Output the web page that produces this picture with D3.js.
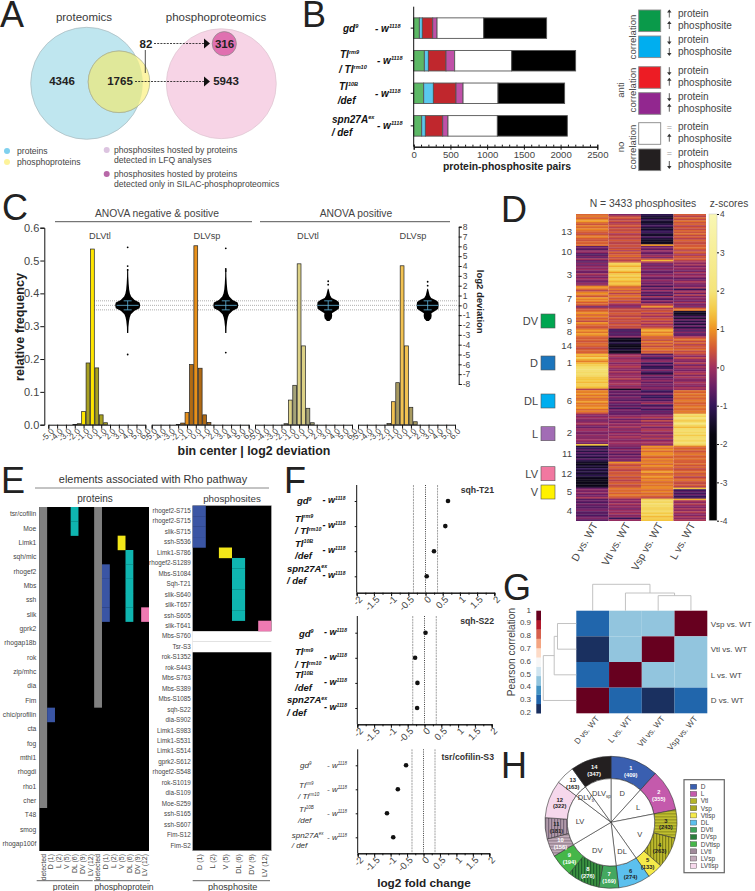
<!DOCTYPE html>
<html>

<head>
    <meta charset="UTF-8">
    <style>
        body { margin: 0; background: #fff; }
        svg { display: block; }
        text { font-family: "Liberation Sans", Arial, sans-serif; fill: #3a3a3a; }
        .axis path, .axis line { stroke: #111; stroke-width: 1; }
        .axis text { fill: #444; }
    </style>
</head>

<body>
    <svg></svg>
    <script src="https://d3js.org/d3.v7.min.js"></script>
    <script>
        // ---- A: venn counts
        let vennProteins = 4346, vennShared = 1765, vennPhosphoOnly = 82, vennSilac = 316, vennLfq = 5943;

        // ---- B: protein-phosphosite pairs
        let genotypes = ["gd", "Tlrm9", "Tl10B", "spn27A"];
        let pairClasses = ["upUp", "downDown", "downUp", "upDown", "eqUp", "eqDown"];
        let pairUpUp = [77, 145, 136, 109];
        let pairDownDown = [41, 55, 132, 50];
        let pairDownUp = [141, 240, 308, 236];
        let pairUpDown = [59, 118, 96, 72];
        let pairEqUp = [635, 776, 476, 672];
        let pairEqDown = [857, 871, 907, 953];
        let pairColors = ["#5cb865", "#5ac8ee", "#c0272d", "#c050a8", "#ffffff", "#000000"];
        let pairLegendColors = ["#0a9a4a", "#00aeef", "#ed1c24", "#92278f", "#ffffff", "#231f20"];

        // ---- C: histograms and deviation swarms
        let histBins = [-2, -1.5, -1, -0.5, 0, 0.5, 1, 1.5];
        let histVtlAll = [0.001, 0.003, 0.04, 0.188, 0.535, 0.173, 0.03, 0.006];
        let histVspAll = [0.001, 0.005, 0.037, 0.183, 0.545, 0.172, 0.03, 0.007];
        let histVtlPos = [0, 0.003, 0.075, 0.12, 0.49, 0.24, 0.05, 0.006];
        let histVspPos = [0, 0.004, 0.07, 0.128, 0.484, 0.24, 0.053, 0.009];
        let binTicks = [-5, -4, -3, -2, -1, 0, 1, 2, 3, 4, 5, 6];
        let swarmDevAll = [-2.8, -2.2, -1.6, -1.2, -0.9, -0.55, -0.3, 0, 0.3, 0.55, 0.9, 1.2, 1.6, 2.2, 2.9, 3.7];
        let swarmDensityAll = [0.05, 0.06, 0.11, 0.17, 0.26, 0.55, 0.95, 1, 0.95, 0.55, 0.28, 0.18, 0.12, 0.08, 0.05, 0.04];
        let swarmDevPos = [-1.6, -1.35, -1.05, -0.8, -0.55, -0.35, 0, 0.35, 0.55, 0.75, 1, 1.3, 1.7];
        let swarmDensityPos = [0.1, 0.28, 0.32, 0.3, 0.62, 0.85, 0.88, 0.85, 0.62, 0.28, 0.16, 0.1, 0.03];
        let swarmOutliers = [[5.9, 4, 3.6, -5], [5.8, 3.7, 3.5, -4.8], [2.45, 2.1], [2.4, 2]];
        let swarmBin = [4, 3.4, 3.3, 2.9];
        let devTicks = d3.range(-8, 9);

        // ---- D: clustered heat map, top to bottom
        let heatClusters = [13, 10, 3, 7, 9, 8, 14, 1, 6, 2, 11, 12, 5, 4];
        let heatRows = [358, 186, 258, 246, 235, 101, 179, 392, 280, 358, 179, 291, 123, 247];
        let heatColumns = ["D vs. WT", "Vtl vs. WT", "Vsp vs. WT", "L vs. WT"];
        let heatD = [
            [.6, .8, .5, .9, 1.1, .7, .4, .8, .6, .9, .7, .5, .3, .7, .8, .5, .4, .6, .5, .7],
            [-.6, -.4, -.7, -.2, -.1, -.6, -.8, -.3, -.6, .1, -.5, -.7],
            [-.2, -.5, -.1, -.3, 0, -.4, -.5, .1, -.2, -.4, 0, -.3, -.5, -.1, -.2],
            [.9, 1, .6, .2, .8, 1, .7, .4, 1.1, .8, .9, .5, .7, .3, -.5],
            [.3, .5, .7, 1, .6, .9, .5, .7, .3, 1, .7, .5, .4],
            [.8, 1, .7, 1.1, .9, .6],
            [.5, .6, .4, .6, .7, .5, .3, .5, .6, .5],
            [1.3, 1.1, 1.6, 1.2, .8, 1.3, 1.6, 1.8, 1.9, 1.9, 1.8, 1.9, 1.8, 1.5, 1.4, 1.6, 1.3, 1.6, 1.5, 1.3],
            [.2, .9, .8, 1, .7, .9, .6, .8, 1.1, .7, .8, .9, 1, .6, .8, .5],
            [-.1, -.3, 0, -.2, -.4, -.1, .1, -.3, -.5, -.1, 0, -.3, -.4, -.1, -.3, -.2, 0, -.2, -.4, 1.4],
            [-1.3, -1, -.6, -1.2, -.6, -1.1, -.8, -1.3, -.7, -1.2],
            [-1.5, -1.7, -1.3, -1.5, -1, -1.4, -1.2, -1.5, -1.1, -1.5, -1.7, -1.6, -1.7, -1.6, -1.7, -1.5],
            [-.5, -.2, -.4, -.1, -.5, -.3, .1],
            [-.7, -.5, -.8, -.4, -.6, -.7, -.5, -.3, -.7, -.6, -.8, -.5, -.3, -.6]
        ];
        let heatVtl = [
            [-.3, .3, .5, .2, .4, .1, .3, .5, .2, .4, .3, .5, .1, .3, .4, .2, .5, .3, .2, .4],
            [.4, .2, .5, .1, .6, .3, .5, .7, .3, .5, .2, .4],
            [1.7, 1.5, 1.2, 1.6, 1.8, 1.4, 1, 1.5, 1.7, 1.3, 1.6, 1.4, 1.2, 1.5, 1.3],
            [.7, .5, .8, .4, .7, .2, .6, .8, .4, .6, .2, .5, .1, -.2, -.4],
            [.2, .4, .3, .5, .4, .2, .5, .3, .4, .2, .5, .3, .4],
            [-.7, -.9, -.6, -.8, -.6, -.2],
            [-1.5, -1.7, -1.5, -1.2, -1.6, -1.7, -1.6, -1.2, -1.6, -1.5],
            [-.1, .1, -.2, 0, .1, -.3, 0, .2, -.1, -.3, .1, -.2, 0, -.1, .2, -.2, 0, .1, -.2, 0],
            [-1.5, -.4, -.6, -.4, -.7, -.3, -.5, -.7, -.2, -.5, -.7, -.4, -.9, -.3, -.5, -.6],
            [-.5, -.2, .1, -.5, -.1, -.4, 0, -.2, .1, -.3, -.1, -.4, 0, -.2, .1, -.1, -.3, -.1, 0, -.2],
            [-.3, -.6, -.1, -.5, -.2, -.7, -.3, -.5, -.2, -.4],
            [1, .5, .3, .6, .4, .2, .5, .4, .6, .3, .5, .2, .4, .6, .3, .4],
            [.8, .6, .7, .5, .8, .6, .4],
            [-.2, 0, -.3, .1, -.2, -.1, -.4, 0, -.2, .1, -.3, -.1, -1, -.1]
        ];
        let heatVsp = [
            [-1.1, -1.3, -1.5, -.9, -1.4, -1.5, -1.2, -.8, -1.3, -1.5, -1.1, -.9, -1.4, -1.5, -.8, -1.3, -1.5, -1.6, -1.5, 1],
            [-.5, -.2, -.6, 0, -.4, -.6, -.2, .1, -.4, .4, 1.3, .3],
            [-.3, -.5, -.2, -.4, -.1, -.5, -.6, -.3, 0, -.4, -.6, -.1, -.3, -.5, -.2],
            [-.9, -.2, -.6, 0, -.7, -.4, -.9, .1, -.5, -.8, -.1, -.6, .1, .4, 1],
            [.1, .3, .5, .1, .4, 0, .3, .5, .1, .4, 0, .2, .4],
            [1.1, 1.2, .8, 1.1, .9, .5],
            [.6, .3, .8, .4, .7, .3, .6, .8, .4, .6],
            [-.7, -.3, -.9, -.4, -.1, -1, -.5, -1.1, -.9, -.3, -.8, -1.2, -.2, -.7, -.4, -.1, -.6, -.3, -.5, -.2],
            [-.4, -1, -.7, -.3, -.9, -1, -.5, -.8, -.3, .1, -.9, -.6, -.4, -.9, -.5, -.7],
            [-.3, -.1, .2, -.4, .3, -.2, 0, .2, -.4, 0, .2, -.1, -.3, .1, -.2, .2, -.3, 0, .1, -.2],
            [1, .7, 1, .6, .9, 1, .7, .5, .9, .7],
            [.9, .6, 1, .7, .5, .8, 1.1, .6, .8, 1, .7, .9, .6, .8, .7, .9],
            [.9, .6, .9, .6, .8, .5, .3],
            [1.6, 1.8, 1.7, 1.9, 1.8, 1.7, 1.6, 1.8, 1.7, 1.5, 1.7, 1.3, 1.6, 1.4]
        ];
        let heatL = [
            [.5, .2, .6, .3, .7, .4, .6, .2, .5, .3, .6, .4, .7, .3, .5, .2, .6, .4, .3, .5],
            [.5, .7, .4, .2, .6, .3, 0, .5, .3, .6, .2, .1],
            [-.2, .1, -.4, 0, -.2, -.5, .1, -.3, 0, -.2, -.6, -.3, .1, -.2, -.4],
            [-.4, .1, -1, -.2, .1, -.5, .2, -.4, -.1, -.3, -.5, .1, -.4, -.2, -.5],
            [.5, .8, -1.4, -1.6, -1.5, -.7, -1.4, -.4, -1.2, -.6, -1.3, -.5, -1.2],
            [-.4, -.8, -.2, -.7, -.5, .1],
            [.5, .7, .3, .6, .2, .5, .4, .7, .3, .5],
            [.2, -.2, .3, -.1, -.3, .2, -.4, .1, -.2, -.4, 0, .2, -.3, .1, -.2, -.3, .1, -.1, -.3, .1],
            [-.1, .7, .5, .8, .6, .7, .5, .8, .7, .5, .6, .8, .7, .6, .8, .7],
            [1.9, 1.6, 2, 1.8, 1.5, 1.9, 2, 1.7, 1.3, 1.8, 1.9, 1.7, 1.9, 1.5, 1.8, 1.9, 1.7, 1.8, 1.9, 1.7],
            [.8, .5, .7, .4, .6, .8, .5, .6, .7, .5],
            [.5, .7, .4, .6, .3, .5, .7, .4, .6, .2, .5, .7, .4, .3, .5, .2],
            [1.4, -1, -.6, -.9, -.5, -1, -.8],
            [1.2, .1, -.2, .2, -.1, -.3, .1, -.2, .2, -.1, -.3, .1, -.2, .1]
        ];
        let heatGroups = ["DV", "D", "DL", "L", "LV", "V"];
        let heatGroupColors = ["#00a651", "#1c75bc", "#00aeef", "#a26cb5", "#f178a0", "#fff200"];
        let zTicks = [4, 3, 2, 1, 0, -1, -2, -3, -4];
        let zStops = [-4, -1.8, -1.4, -1, -0.5, 0, 0.5, 1, 1.4, 2, 4];
        let zColors = ["#000000", "#04030b", "#1a0f30", "#331558", "#6a1f66", "#a03060", "#d45a35", "#ee9424", "#f4c53e", "#f4e47a", "#f9f7b4"];

        // ---- E: Rho pathway elements
        let rhoProteins = ["tsr/cofilin", "Moe", "Limk1", "sqh/mlc", "rhogef2", "Mbs", "ssh", "slik", "gprk2", "rhogap18b", "rok", "zip/mhc", "dia", "Fim", "chic/profilin", "cta", "fog", "mthl1", "rhogdi", "rho1", "cher", "T48", "smog", "rhogap100f"];
        let rhoColumns = ["detected", "D (1)", "L (2)", "V (5)", "DL (6)", "DV (9)", "LV (12)"];
        // [row, column, class]
        let rhoProteinHits = [[0, 4, "DL (6)"], [1, 4, "DL (6)"], [14, 1, "D (1)"],
            [2, 10, "V (5)"], [3, 11, "DL (6)"], [4, 11, "DL (6)"], [5, 11, "DL (6)"], [6, 11, "DL (6)"], [7, 11, "DL (6)"],
            [4, 8, "D (1)"], [5, 8, "D (1)"], [6, 8, "D (1)"], [7, 8, "D (1)"], [7, 13, "LV (12)"]];
        let rhoDetectedProtein = 21, rhoDetectedPhospho = 14;
        let rhoSites = ["rhogef2-S715", "rhogef2-S715", "slik-S715", "ssh-S536", "Limk1-S786", "rhogef2-S1289", "Mbs-S1084", "Sqh-T21", "slik-S640", "slik-T657", "ssh-S605", "slik-T641", "Mbs-S760", "Tsr-S3", "rok-S1352", "rok-S443", "Mbs-S763", "Mbs-S389", "Mbs-S1085", "sqh-S22", "dia-S902", "Limk1-S983", "Limk1-S531", "Limk1-S514", "gprk2-S612", "rhogef2-S548", "rok-S1019", "dia-S109", "Moe-S259", "ssh-S165", "ssh-S607", "Fim-S12", "Fim-S2"];
        let rhoSiteColumns = ["D (1)", "L (2)", "V (5)", "DL (6)", "DV (9)", "LV (12)"];
        let rhoSiteHits = [[0, "D (1)"], [1, "D (1)"], [2, "D (1)"], [3, "D (1)"], [4, "V (5)"], [5, "DL (6)"], [6, "DL (6)"], [7, "DL (6)"], [8, "DL (6)"], [9, "DL (6)"], [10, "DL (6)"], [11, "LV (12)"]];
        let rhoSiteWhite = [12, 13];
        let rhoHitColor = d3.scaleOrdinal().domain(["D (1)", "V (5)", "DL (6)", "LV (12)"]).range(["#3a55a4", "#f2e619", "#0fb5b0", "#ee7ab2"]);

        // ---- F: fold changes
        let foldSqhT21 = [0.654, 0.576, 0.247, 0.035];
        let foldSqhS22 = [0.03, -0.28, -0.21, -0.22];
        let foldTsrS3 = [-0.53, -0.78, -1.11, -0.92];
        let foldTicks = [-2, -1.5, -1, -0.5, 0, 0.5, 1, 1.5, 2];
        let foldCut = 0.35;
        let genoLines = [["gd", "9"], ["Tl", "rm9"], ["/ Tl", "rm10"], ["Tl", "10B"], ["/def", ""], ["spn27A", "ex"], ["/ def", ""]];

        // ---- G: Pearson correlation
        let corrCols = ["D vs. WT", "L vs. WT", "Vtl vs. WT", "Vsp vs. WT"];
        let corrRows = ["Vsp vs. WT", "Vtl vs. WT", "L vs. WT", "D vs. WT"];
        let corrVsp = [0.3, 0.45, 0.45, 1];
        let corrVtl = [0.2, 0.45, 1, 0.45];
        let corrL = [0.3, 1, 0.45, 0.45];
        let corrD = [1, 0.3, 0.2, 0.3];
        let corrColors = ["#1a3060", "#2166ac", "#4393c3", "#92c5de", "#d1e5f0", "#f7f7f7", "#fddbc7", "#f4a582", "#d6604d", "#b2182b", "#67001f"];
        let corrTicks = [1, 0.9, 0.8, 0.7, 0.6, 0.5, 0.4, 0.3, 0.2];
        let mergeHeights = [0.57, 0.67, 1];

        // ---- H: cluster sizes
        let ringNames = ["1", "2", "3", "4", "5", "6", "7", "8", "9", "10", "11", "12", "13", "14"];
        let ringSizes = [409, 355, 243, 263, 133, 274, 169, 276, 194, 156, 181, 322, 163, 347];
        let ringFills = ["#3a5fb0", "#c45aac", "url(#hOlive)", "url(#vOlive)", "#f5ea4a", "#5cc0ee", "#44a860", "url(#vGreen)", "#45b649", "url(#hMauve)", "url(#vMauve)", "#f6d8ec", "#ffffff", "#231f20"];
        let ringText = ["#fff", "#fff", "#222", "#222", "#222", "#222", "#fff", "#fff", "#fff", "#fff", "#222", "#222", "#222", "#fff"];
        let pieNames = ["D", "L", "V", "DL", "DV", "LV", "DLVtl", "DLVsp"];
        let pieClusterCount = [1, 1, 3, 1, 3, 3, 1, 1];
        let legendNames = ["D", "L", "Vtl", "Vsp", "Vtlsp", "DL", "DVtl", "DVsp", "DVtlsp", "LVtl", "LVsp", "LVtlsp"];
        let legendColors = ["#3a5fb0", "#c45aac", "#b5b52a", "#a8a820", "#f5ea4a", "#5cc0ee", "#3fa35a", "#2a7d3c", "#45b649", "#a08a9a", "#c0a8b8", "#f6d8ec"];

        let width = 755,
            height = 891;

        let svg = d3.select("svg")
            .attr("width", width)
            .attr("height", height);

        let defs = svg.append("defs");

        function label(g, x, y, str, size, opts) {
            opts = opts || {};
            return g.append("text")
                .attr("x", x).attr("y", y)
                .attr("font-size", size)
                .attr("text-anchor", opts.anchor || "start")
                .attr("font-weight", opts.weight || null)
                .attr("font-style", opts.style || null)
                .style("fill", opts.fill || null)
                .attr("transform", opts.rotate ? "rotate(" + opts.rotate + " " + x + " " + y + ")" : null)
                .text(str);
        }

        function geno(g, x, y, main, sup, size, bold) {
            let t = g.append("text")
                .attr("x", x).attr("y", y)
                .attr("font-size", size)
                .attr("font-style", "italic")
                .attr("font-weight", bold ? "bold" : null)
                .style("fill", bold ? "#111" : "#333");
            t.append("tspan").text(main);
            if (sup) {
                t.append("tspan").attr("dy", -size * 0.36).attr("font-size", size * 0.56).text(sup);
            }
        }

        [["A", 0, 27], ["B", 302, 27], ["C", 2, 220], ["D", 501, 222], ["E", 1, 493], ["F", 284, 493], ["G", 503, 600], ["H", 501, 778]]
            .forEach(d => label(svg, d[1], d[2], d[0], 36, { fill: "#222" }));

        // ---------------- A
        let a = svg.append("g");
        let vennR = d3.scaleSqrt().domain([0, vennProteins + vennShared]).range([0, 56]);

        function circle(g, cx, cy, r, fill, stroke) {
            return g.append("circle").attr("cx", cx).attr("cy", cy).attr("r", r)
                .attr("fill", fill).attr("stroke", stroke || "none").attr("stroke-width", 0.7);
        }
        circle(a, 86.7, 83.3, vennR(vennProteins + vennShared), "#bfe6ef", "#a8b8bc");
        circle(a, 119, 81.8, vennR(vennShared + vennPhosphoOnly), "#fdf5a5", "#a8ad90");
        defs.append("clipPath").attr("id", "vennClip").append("circle")
            .attr("cx", 86.7).attr("cy", 83.3).attr("r", vennR(vennProteins + vennShared));
        circle(a, 119, 81.8, vennR(vennShared + vennPhosphoOnly), "#e0e89a", "#a8ad90").attr("clip-path", "url(#vennClip)");
        circle(a, 221.3, 83.7, vennR(vennLfq + vennSilac) * 0.97, "#f7d4e6", "#ddc4d0");
        circle(a, 224.3, 43.7, vennR(vennSilac) * 0.95, "#e070b0", "#888");

        label(a, 84, 21, "proteomics", 11.5, { anchor: "middle" });
        label(a, 216, 21, "phosphoproteomics", 11.5, { anchor: "middle" });
        [[vennProteins, 62, 85], [vennShared, 120, 85], [vennPhosphoOnly, 146, 48], [vennSilac, 224.5, 48], [vennLfq, 226, 85]]
            .forEach(d => label(a, d[1], d[2], d[0], 11.5, { anchor: "middle", weight: "bold", fill: "#222" }));

        [[154, 204, 43.5], [135, 204, 81.5]].forEach(d => {
            a.append("line").attr("x1", d[0]).attr("x2", d[1]).attr("y1", d[2]).attr("y2", d[2])
                .attr("stroke", "#111").attr("stroke-width", 0.8).attr("stroke-dasharray", "2,1.2");
            a.append("path").attr("d", d3.line()([[204, d[2] - 5], [210, d[2]], [204, d[2] + 5]]) + "Z").attr("fill", "#111");
        });
        a.append("line").attr("x1", 145.3).attr("x2", 145.3).attr("y1", 50).attr("y2", 73).attr("stroke", "#222").attr("stroke-width", 0.8);

        [[7, 151, "#7fd0ee"], [7, 162, "#fdf39a"], [106.7, 150, "#dcc4e0"], [106.7, 174, "#b868a8"]]
            .forEach(d => circle(a, d[0], d[1], 3, d[2]));
        [[17, 153.5, "proteins"], [17, 164.5, "phosphoproteins"], [114, 152.5, "phosphosites hosted by proteins"], [114, 163, "detected in LFQ analyses"], [114, 176.5, "phosphosites hosted by proteins"], [114, 187, "detected only in SILAC-phosphoproteomics"]]
            .forEach(d => label(a, d[0], d[1], d[2], 8.6, { fill: "#444" }));

        // ---------------- B
        let b = svg.append("g");
        let pairX = d3.scaleLinear().domain([0, 2500]).range([413.7, 597.3]);
        let pairY = d3.scaleBand().domain(genotypes).range([12, 142]).paddingInner(0.37).paddingOuter(0.18);
        let pairTable = genotypes.map((g, i) => ({
            g: g, upUp: pairUpUp[i], downDown: pairDownDown[i], downUp: pairDownUp[i],
            upDown: pairUpDown[i], eqUp: pairEqUp[i], eqDown: pairEqDown[i]
        }));
        let stacked = d3.stack().keys(pairClasses)(pairTable);
        b.selectAll("g.layer").data(stacked).enter().append("g")
            .attr("fill", (d, i) => pairColors[i])
            .selectAll("rect").data(d => d).enter().append("rect")
            .attr("x", d => pairX(d[0]))
            .attr("y", d => pairY(d.data.g))
            .attr("width", d => pairX(d[1]) - pairX(d[0]))
            .attr("height", pairY.bandwidth())
            .attr("stroke", "#555").attr("stroke-width", 0.9);
        b.append("g").attr("class", "axis").attr("transform", "translate(0,146.7)")
            .call(d3.axisBottom(pairX).tickValues(d3.range(0, 2501, 100)).tickSize(-2).tickFormat(""))
            .call(g => g.select(".domain").attr("stroke-width", 1.2));
        b.append("g").attr("class", "axis").attr("transform", "translate(0,146.7)")
            .call(d3.axisBottom(pairX).tickValues(d3.range(0, 2501, 500)).tickSize(3).tickPadding(1).tickFormat(d3.format("d")))
            .call(g => g.selectAll("text").attr("font-size", 9.6));
        b.append("g").attr("class", "axis").attr("transform", "translate(413.7,0)")
            .call(d3.axisLeft(pairY).tickSize(3).tickFormat(""))
            .call(g => g.select(".domain").attr("d", "M0,6.7V146.7"));
        label(b, 507, 170, "protein-phosphosite pairs", 10.4, { anchor: "middle", weight: "bold", fill: "#222" });

        geno(b, 343, 31.7, "gd", "9", 10, true);
        geno(b, 340, 57.7, "Tl", "rm9", 10, true);
        geno(b, 339, 72.7, "/ Tl", "rm10", 10, true);
        geno(b, 339, 90, "Tl", "10B", 10, true);
        geno(b, 337.7, 104, "/def", "", 10, true);
        geno(b, 332, 122.7, "spn27A", "ex", 10, true);
        geno(b, 331.7, 135.7, "/ def", "", 10, true);
        [[375, 31.7], [377, 64], [375, 96.7], [377, 129]].forEach(d => geno(b, d[0], d[1], "- w", "1118", 10, true));

        let swatchY = [10, 36, 66.7, 92.7, 122.7, 149];
        let swatchArrows = [["up", "up"], ["down", "down"], ["down", "up"], ["down", "up"], ["eq", "up"], ["eq", "down"]];
        function arrow(g, x, y, kind) {
            if (kind === "eq") {
                label(g, x, y + 3, "=", 9, { anchor: "middle", fill: "#999" });
                return;
            }
            let s = kind === "up" ? 1 : -1;
            g.append("line").attr("x1", x).attr("x2", x).attr("y1", y - 3.5 * s).attr("y2", y + 3.5 * s).attr("stroke", "#333").attr("stroke-width", 0.8);
            g.append("path").attr("d", d3.line()([[x - 2.2, y - 1.5 * s], [x, y - 4.5 * s], [x + 2.2, y - 1.5 * s]]) + "Z").attr("fill", "#333");
        }
        swatchY.forEach((y, i) => {
            b.append("rect").attr("x", 638.7).attr("y", y).attr("width", 22).attr("height", 21.6)
                .attr("fill", pairLegendColors[i]).attr("stroke", "#888").attr("stroke-width", 0.9);
            arrow(b, 669.3, y + 4, swatchArrows[i][0]);
            arrow(b, 669.3, y + 15.5, swatchArrows[i][1]);
            label(b, 678, y + 7, "protein", 10, { fill: "#444" });
            label(b, 678, y + 19, "phosphosite", 10, { fill: "#444" });
        });
        [[636, 37, "correlation"], [636, 90, "correlation"], [624, 90, "anti"], [636, 147, "correlation"], [624, 147, "no"]]
            .forEach(d => label(b, d[0], d[1], d[2], 9.6, { anchor: "middle", rotate: -90, fill: "#444" }));

        // ---------------- C
        let c = svg.append("g");
        let freqY = d3.scaleLinear().domain([0, 0.6]).range([424.7, 227.7]);
        let devY = d3.scaleLinear().domain([-8, 8]).range([384, 226.7]);
        let widthScale = d3.scaleLinear().domain([0, 1]).range([0, 12.5]);
        let panelStart = [48.3, 151.7, 255, 358];
        let histValues = [histVtlAll, histVspAll, histVtlPos, histVspPos];
        let histColors = [["#ffe600", "#a8a020"], ["#e8901a", "#b06a14"], ["#dcd186", "#a5a378"], ["#f2c252", "#a89a60"]];
        let swarmDevs = [swarmDevAll, swarmDevAll, swarmDevPos, swarmDevPos];
        let swarmDens = [swarmDensityAll, swarmDensityAll, swarmDensityPos, swarmDensityPos];

        c.append("g").attr("class", "axis").attr("transform", "translate(44.3,0)")
            .call(d3.axisLeft(freqY).ticks(6).tickFormat(d => d.toFixed(1)).tickSize(4).tickPadding(1))
            .call(g => g.selectAll("text").attr("font-size", 11));
        c.append("g").attr("class", "axis").attr("transform", "translate(458.7,0)")
            .call(d3.axisRight(devY).tickValues(devTicks).tickFormat(d => String(d)).tickSize(3).tickPadding(1))
            .call(g => g.selectAll("text").attr("font-size", 8.5));

        [0, -0.46, 0.46].forEach(d => {
            c.append("line").attr("x1", 94).attr("x2", 457).attr("y1", devY(d)).attr("y2", devY(d))
                .attr("stroke", "#777").attr("stroke-width", 0.6).attr("stroke-dasharray", "1,1");
        });

        panelStart.forEach((x0, p) => {
            let bx = d3.scaleLinear().domain([-5, 6]).range([x0, x0 + 97]);
            c.append("g").attr("class", "axis").attr("transform", "translate(0,424.7)")
                .call(d3.axisBottom(bx).tickValues(binTicks).tickFormat(d => d.toFixed(1)).tickSize(4).tickPadding(2))
                .call(g => g.selectAll("text").attr("font-size", 8.4).attr("text-anchor", "end")
                    .attr("transform", "rotate(-45) translate(-1,-3)"));

            c.selectAll("rect.h" + p).data(histBins).enter().append("rect")
                .attr("x", d => bx(d) - 1.9)
                .attr("y", (d, i) => freqY(histValues[p][i]))
                .attr("width", 3.8)
                .attr("height", (d, i) => 424.7 - freqY(histValues[p][i]))
                .attr("fill", d => (d === 0 || d === -1 || (p > 1 && d === 0.5)) ? histColors[p][0] : histColors[p][1])
                .attr("stroke", "#222").attr("stroke-width", 0.7);

            // swarm drawn as width profile around the bin position
            let sx = bx(swarmBin[p]);
            let area = d3.area()
                .x0((d, i) => sx - widthScale(swarmDens[p][i]))
                .x1((d, i) => sx + widthScale(swarmDens[p][i]))
                .y(d => devY(d));
            c.append("path").attr("d", area(swarmDevs[p])).attr("fill", "#000");
            c.selectAll("circle.o" + p).data(swarmOutliers[p]).enter().append("circle")
                .attr("cx", sx).attr("cy", d => devY(d)).attr("r", 0.9).attr("fill", "#000");
            c.append("path")
                .attr("d", "M" + (sx - 11) + "," + devY(0) + "H" + (sx + 11)
                    + "M" + (sx - 4) + "," + devY(0.46) + "H" + (sx + 4)
                    + "M" + (sx - 4) + "," + devY(-0.46) + "H" + (sx + 4)
                    + "M" + sx + "," + devY(0.46) + "V" + devY(-0.46))
                .attr("fill", "none").attr("stroke", "#62b5dc").attr("stroke-width", 0.8);
        });

        [[157, 217, "ANOVA  negative & positive"], [356, 217, "ANOVA positive"]].forEach(d => label(c, d[0], d[1], d[2], 10.3, { anchor: "middle", fill: "#444" }));
        [[55, 252], [260, 450]].forEach(d => c.append("line").attr("x1", d[0]).attr("x2", d[1]).attr("y1", 221.7).attr("y2", 221.7).attr("stroke", "#555"));
        [[100, "DLVtl"], [207, "DLVsp"], [308, "DLVtl"], [413, "DLVsp"]].forEach(d => label(c, d[0], 238.5, d[1], 9.2, { anchor: "middle", fill: "#444" }));
        label(c, 254, 455, "bin center | log2 deviation", 12.4, { anchor: "middle", weight: "bold", fill: "#222" });
        label(c, 24, 327, "relative frequency", 12.6, { anchor: "middle", weight: "bold", rotate: -90, fill: "#222" });
        label(c, 477, 301.7, "log2 deviation", 9.5, { anchor: "middle", weight: "bold", rotate: 90, fill: "#222" });

        // ---------------- D
        let dd = svg.append("g");
        let zColor = d3.scaleLinear().domain(zStops).range(zColors);
        let heatTotal = d3.sum(heatRows);
        let heatYScale = d3.scaleLinear().domain([0, heatTotal]).range([214, 520.7]);
        let heatX = d3.scaleBand().domain(heatColumns).range([576, 706]);
        let heatByColumn = [heatD, heatVtl, heatVsp, heatL];
        let rowOffsets = [0].concat(Array.from(d3.cumsum(heatRows)));

        heatColumns.forEach((col, ci) => {
            heatClusters.forEach((cl, k) => {
                let stripes = heatByColumn[ci][k];
                let rowsEach = heatRows[k] / stripes.length;
                dd.selectAll("rect.c" + ci + "k" + k).data(stripes).enter().append("rect")
                    .attr("x", heatX(col))
                    .attr("width", heatX.bandwidth())
                    .attr("y", (d, i) => heatYScale(rowOffsets[k] + i * rowsEach))
                    .attr("height", heatYScale(rowsEach) - heatYScale(0) + 0.3)
                    .attr("fill", d => zColor(d));
            });
            label(dd, heatX(col) + 22, 525, col, 10.4, { anchor: "end", rotate: -61, fill: "#444" });
        });

        let clusterLabelY = [231, 251, 274, 298, 320, 331, 345, 362, 400, 432, 453, 473, 491, 510];
        heatClusters.forEach((cl, k) => label(dd, 572, clusterLabelY[k] + 3.5, cl, 9.6, { anchor: "end", fill: "#444" }));
        let groupY = [314, 356, 394, 426.7, 466.7, 485];
        heatGroups.forEach((g, i) => {
            dd.append("rect").attr("x", 541).attr("y", groupY[i]).attr("width", 14).attr("height", 14)
                .attr("fill", heatGroupColors[i]).attr("stroke", "#555").attr("stroke-width", 0.6);
            label(dd, 538, groupY[i] + 11, g, 11, { anchor: "end", fill: "#444" });
        });
        label(dd, 643, 207, "N = 3433 phosphosites", 10.4, { anchor: "middle", fill: "#444" });
        label(dd, 729, 207, "z-scores", 10.2, { anchor: "middle", fill: "#444" });

        let zY = d3.scaleLinear().domain([-4, 4]).range([520.7, 214]);
        defs.append("linearGradient").attr("id", "zGrad").attr("x1", 0).attr("x2", 0).attr("y1", 1).attr("y2", 0)
            .selectAll("stop").data(d3.range(-4, 4.01, 0.25)).enter().append("stop")
            .attr("offset", d => (d + 4) / 8)
            .attr("stop-color", d => zColor(d));
        dd.append("rect").attr("x", 709).attr("y", 214).attr("width", 8).attr("height", 306.7)
            .attr("fill", "url(#zGrad)").attr("stroke", "#ccc").attr("stroke-width", 0.6);
        dd.append("g").attr("transform", "translate(717,0)").attr("class", "axis")
            .call(d3.axisRight(zY).tickValues(zTicks).tickSize(2).tickPadding(1).tickFormat(d => String(d)))
            .call(g => g.select(".domain").remove())
            .call(g => g.selectAll("line").attr("stroke", "#888"))
            .call(g => g.selectAll("text").attr("font-size", 8.4));

        // ---------------- E
        let e = svg.append("g");
        label(e, 153, 483, "elements associated with Rho pathway", 10.9, { anchor: "middle", fill: "#333" });
        e.append("line").attr("x1", 35).attr("x2", 269).attr("y1", 488).attr("y2", 488).attr("stroke", "#888");
        label(e, 95, 502, "proteins", 10, { anchor: "middle" });
        label(e, 232, 502, "phosphosites", 9.8, { anchor: "middle" });

        let leftCols = d3.range(14);
        let eX = d3.scaleBand().domain(leftCols).range([39.3, 149]);
        let eY = d3.scaleBand().domain(rhoProteins).range([507, 851]);
        e.append("rect").attr("x", 39.3).attr("y", 507).attr("width", 109.7).attr("height", 344).attr("fill", "#000");
        [[0, rhoDetectedProtein], [7, rhoDetectedPhospho]].forEach(d => {
            e.append("rect").attr("x", eX(d[0])).attr("y", 507).attr("width", eX.bandwidth())
                .attr("height", d[1] * eY.bandwidth()).attr("fill", "#808080");
        });
        e.selectAll("rect.hit").data(rhoProteinHits).enter().append("rect")
            .attr("x", d => eX(d[1])).attr("y", d => eY(rhoProteins[d[0]]))
            .attr("width", eX.bandwidth()).attr("height", eY.bandwidth() + 0.2)
            .attr("fill", d => rhoHitColor(d[2]));
        e.append("g").attr("class", "axis").attr("transform", "translate(39.3,0)")
            .call(d3.axisLeft(eY).tickSize(0).tickPadding(3))
            .call(g => g.select(".domain").remove())
            .call(g => g.selectAll("text").attr("font-size", 6.7));
        leftCols.forEach(i => {
            let x = eX(i) + eX.bandwidth() / 2 + 2.4;
            label(e, x, 854, rhoColumns[i % 7], 6.9, { anchor: "end", rotate: -90, fill: "#444" });
        });
        [[36.7, 92.7, 66, "protein"], [94, 150, 124, "phosphoprotein"]].forEach(d => {
            e.append("line").attr("x1", d[0]).attr("x2", d[1]).attr("y1", 880.7).attr("y2", 880.7).attr("stroke", "#666");
            label(e, d[2], 889.5, d[3], 8.6, { anchor: "middle" });
        });

        let sX = d3.scaleBand().domain(rhoSiteColumns).range([192.7, 271.3]);
        let sY = d3.scaleBand().domain(d3.range(rhoSites.length)).range([505.7, 850.7]);
        e.append("rect").attr("x", 192.7).attr("y", 505.7).attr("width", 78.6).attr("height", 345)
            .attr("fill", "#000").attr("stroke", "#999").attr("stroke-width", 0.6);
        e.selectAll("rect.white").data(rhoSiteWhite).enter().append("rect")
            .attr("x", 192.2).attr("y", d => sY(d)).attr("width", 80).attr("height", sY.bandwidth() + 0.2).attr("fill", "#fff");
        e.selectAll("rect.shit").data(rhoSiteHits).enter().append("rect")
            .attr("x", d => sX(d[1])).attr("y", d => sY(d[0]))
            .attr("width", sX.bandwidth()).attr("height", sY.bandwidth() + 0.2)
            .attr("fill", d => rhoHitColor(d[1]));
        e.append("g").attr("class", "axis").attr("transform", "translate(192.7,0)")
            .call(d3.axisLeft(sY).tickSize(0).tickPadding(2).tickFormat(i => rhoSites[i]))
            .call(g => g.select(".domain").remove())
            .call(g => g.selectAll("text").attr("font-size", 6.3));
        rhoSiteColumns.forEach(col => {
            label(e, sX(col) + sX.bandwidth() / 2 + 2.4, 854, col, 7.2, { anchor: "end", rotate: -90, fill: "#444" });
        });
        e.append("line").attr("x1", 192.7).attr("x2", 270).attr("y1", 880.7).attr("y2", 880.7).attr("stroke", "#666");
        label(e, 232.7, 889.5, "phosphosite", 9.2, { anchor: "middle" });

        // ---------------- F
        let f = svg.append("g");
        let foldPlots = [
            { values: foldSqhT21, x0: 356.7, x1: 494.3, top: 485, bottom: 592.7, y0: 501, y1: 576.3, title: "sqh-T21", ty: 492.7, wy: 503, wx: 322.5 },
            { values: foldSqhS22, x0: 357.3, x1: 491.7, top: 616, bottom: 724.3, y0: 632.7, y1: 708, title: "sqh-S22", ty: 624, wy: 635, wx: 324 },
            { values: foldTsrS3, x0: 357.7, x1: 489.3, top: 749.3, bottom: 853.3, y0: 765.3, y1: 837.3, title: "tsr/cofilin-S3", ty: 760, wy: 768, wx: 327 }
        ];
        foldPlots.forEach((p, pi) => {
            let fx = d3.scaleLinear().domain([-2, 2]).range([p.x0, p.x1]);
            let fy = d3.scalePoint().domain(genotypes).range([p.y0, p.y1]);
            [-foldCut, foldCut].forEach(v => f.append("line")
                .attr("x1", fx(v)).attr("x2", fx(v)).attr("y1", p.top).attr("y2", p.bottom)
                .attr("stroke", "#888").attr("stroke-width", 0.8).attr("stroke-dasharray", "2,0.8"));
            f.append("line").attr("x1", fx(0)).attr("x2", fx(0)).attr("y1", p.top).attr("y2", p.bottom)
                .attr("stroke", "#111").attr("stroke-width", 0.8).attr("stroke-dasharray", "1,1.2");
            f.append("g").attr("class", "axis").attr("transform", "translate(0," + p.bottom + ")")
                .call(d3.axisBottom(fx).tickValues(d3.range(-2, 2.01, 0.25)).tickSize(2).tickFormat(""));
            f.append("g").attr("class", "axis").attr("transform", "translate(0," + p.bottom + ")")
                .call(d3.axisBottom(fx).tickValues(foldTicks).tickSize(3.5).tickPadding(2).tickFormat(d => String(d)))
                .call(g => g.selectAll("text").attr("font-size", 9.5).attr("text-anchor", "end")
                    .attr("transform", "rotate(-45) translate(-1,-3)"));
            f.append("g").attr("class", "axis").attr("transform", "translate(" + p.x0 + ",0)")
                .call(d3.axisLeft(fy).tickSize(2).tickFormat(""))
                .call(g => g.select(".domain").attr("d", "M0," + p.top + "V" + p.bottom));
            f.selectAll("circle.p" + pi).data(p.values).enter().append("circle")
                .attr("cx", d => fx(d))
                .attr("cy", (d, i) => fy(genotypes[i]))
                .attr("r", 2.3).attr("fill", "#111");
            label(f, 494, p.ty, p.title, 8.7, { anchor: "end", weight: "bold", fill: "#333" });
            p.values.forEach((v, i) => geno(f, p.wx, p.wy + i * (p.y1 - p.y0) / 3, "- w", "1118", pi < 2 ? 9 : 8, pi < 2));
        });
        [[297, 504], [295, 521.7], [295, 534], [295, 546.7], [295, 559], [287, 571.7], [287, 584]]
            .forEach((d, i) => geno(f, d[0], d[1], genoLines[i][0], genoLines[i][1], 9.5, true));
        [[299, 636.7], [295, 655], [295, 668], [295, 678], [295, 691], [287, 703], [287, 716]]
            .forEach((d, i) => geno(f, d[0], d[1], genoLines[i][0], genoLines[i][1], 9.5, true));
        [[300, 768], [299, 788], [298, 799], [299, 811.7], [298, 823], [291.7, 838], [291.7, 848]]
            .forEach((d, i) => geno(f, d[0], d[1], genoLines[i][0], genoLines[i][1], 8, false));
        label(f, 424, 887, "log2 fold change", 11.8, { anchor: "middle", weight: "bold", fill: "#222" });

        // ---------------- G
        let gg = svg.append("g");
        let corrX = d3.scaleBand().domain(corrCols).range([576.3, 707.3]);
        let corrY = d3.scaleBand().domain(corrRows).range([610.7, 713.3]);
        let corrColor = d3.scaleQuantize().domain([0.2, 1]).range(corrColors);
        [corrVsp, corrVtl, corrL, corrD].forEach((vals, r) => {
            gg.selectAll("rect.r" + r).data(vals).enter().append("rect")
                .attr("x", (d, i) => corrX(corrCols[i]))
                .attr("y", corrY(corrRows[r]))
                .attr("width", corrX.bandwidth())
                .attr("height", corrY.bandwidth())
                .attr("fill", d => corrColor(d));
        });
        corrRows.forEach(r => label(gg, 710.7, corrY(r) + corrY.bandwidth() / 2 + 3, r, 8, { fill: "#444" }));
        corrCols.forEach(col => label(gg, corrX(col) + corrX.bandwidth() / 2 + 7, 719, col, 8.2, { anchor: "end", rotate: -50, fill: "#444" }));

        // dendrograms
        let topH = d3.scaleLinear().domain([0, 1]).range([610.7, 584.3]);
        let leftH = d3.scaleLinear().domain([0, 1]).range([576.3, 543.3]);
        let cx = n => corrX(n) + corrX.bandwidth() / 2;
        let cy = n => corrY(n) + corrY.bandwidth() / 2;
        let m = mergeHeights;
        let topMid1 = (cx("Vtl vs. WT") + cx("Vsp vs. WT")) / 2;
        let topMid2 = (cx("L vs. WT") + topMid1) / 2;
        let leftMid1 = (cy("Vsp vs. WT") + cy("Vtl vs. WT")) / 2;
        let leftMid2 = (leftMid1 + cy("L vs. WT")) / 2;
        let dendroPath = "M" + cx("Vtl vs. WT") + "," + topH(0) + "V" + topH(m[0]) + "H" + cx("Vsp vs. WT") + "V" + topH(0)
            + "M" + cx("L vs. WT") + "," + topH(0) + "V" + topH(m[1]) + "H" + topMid1 + "V" + topH(m[0])
            + "M" + cx("D vs. WT") + "," + topH(0) + "V" + topH(m[2]) + "H" + topMid2 + "V" + topH(m[1])
            + "M" + leftH(0) + "," + cy("Vsp vs. WT") + "H" + leftH(m[0]) + "V" + cy("Vtl vs. WT") + "H" + leftH(0)
            + "M" + leftH(0) + "," + cy("L vs. WT") + "H" + leftH(m[1]) + "V" + leftMid1 + "H" + leftH(m[0])
            + "M" + leftH(0) + "," + cy("D vs. WT") + "H" + leftH(m[2]) + "V" + leftMid2 + "H" + leftH(m[1]);
        gg.append("path").attr("d", dendroPath).attr("fill", "none").attr("stroke", "#bbb").attr("stroke-width", 0.9);

        let corrBarY = d3.scaleLinear().domain([0, corrColors.length]).range([713.3, 610.7]);
        gg.selectAll("rect.bar").data(corrColors).enter().append("rect")
            .attr("x", 536.3).attr("width", 4.7)
            .attr("y", (d, i) => corrBarY(i + 1))
            .attr("height", corrBarY(0) - corrBarY(1) + 0.2)
            .attr("fill", d => d);
        let corrTickY = d3.scaleLinear().domain([0.2, 1]).range([712, 609.5]);
        corrTicks.forEach(t => label(gg, 531, corrTickY(t) + 3, t, 8, { anchor: "end", fill: "#444" }));
        label(gg, 515, 652, "Pearson correlation", 10.2, { anchor: "middle", rotate: -90, fill: "#444" });

        // ---------------- H
        let hh = svg.append("g").attr("transform", "translate(611,822.3)");
        function stripePattern(id, base, line, vertical) {
            let p = defs.append("pattern").attr("id", id).attr("patternUnits", "userSpaceOnUse").attr("width", 3).attr("height", 3);
            p.append("rect").attr("width", 3).attr("height", 3).attr("fill", base);
            if (vertical) p.append("rect").attr("width", 1.2).attr("height", 3).attr("fill", line);
            else p.append("rect").attr("width", 3).attr("height", 1.2).attr("fill", line);
        }
        stripePattern("hOlive", "#c4c230", "#8f8f1e", false);
        stripePattern("vOlive", "#bdb92c", "#7f7f18", true);
        stripePattern("vGreen", "#3a9040", "#1f5f2e", true);
        stripePattern("hMauve", "#c4aebc", "#8f7a88", false);
        stripePattern("vMauve", "#b09aaa", "#78667a", true);

        let ringPie = d3.pie().sort(null);
        let ringArcs = ringPie(ringSizes);
        let ringArc = d3.arc().innerRadius(43.7).outerRadius(66);
        hh.selectAll("path.ring").data(ringArcs).enter().append("path")
            .attr("d", ringArc)
            .attr("fill", (d, i) => ringFills[i])
            .attr("stroke", "#333").attr("stroke-width", 0.6);
        ringArcs.forEach((d, i) => {
            let c0 = ringArc.centroid(d);
            label(hh, c0[0], c0[1] - 1, ringNames[i], 5.8, { anchor: "middle", weight: "bold", fill: ringText[i] });
            label(hh, c0[0], c0[1] + 5.5, "(" + ringSizes[i] + ")", 5.8, { anchor: "middle", weight: "bold", fill: ringText[i] });
        });

        let pieIndex = 0;
        let pieTotals = pieClusterCount.map(n => {
            let v = d3.sum(ringSizes.slice(pieIndex, pieIndex + n));
            pieIndex += n;
            return v;
        });
        let innerArcs = ringPie(pieTotals);
        let innerArc = d3.arc().innerRadius(0).outerRadius(43.7);
        hh.selectAll("path.inner").data(innerArcs).enter().append("path")
            .attr("d", innerArc).attr("fill", "#fff").attr("stroke", "#333").attr("stroke-width", 0.6);
        innerArcs.forEach((d, i) => {
            let mid = (d.startAngle + d.endAngle) / 2;
            let r = i === 6 ? 36 : 31;
            let px = Math.sin(mid) * r, py = -Math.cos(mid) * r + 3;
            let t = hh.append("text").attr("x", px).attr("y", py).attr("font-size", 7.5).attr("text-anchor", "middle");
            if (i > 5) {
                t.append("tspan").text("DLV");
                t.append("tspan").attr("dy", 2).attr("font-size", 4.5).text(i === 6 ? "tl" : "sp");
            } else {
                t.text(pieNames[i]);
            }
        });

        let lg = svg.append("g");
        lg.append("rect").attr("x", 684).attr("y", 779.7).attr("width", 40.3).attr("height", 93)
            .attr("fill", "#fff").attr("stroke", "#666").attr("stroke-width", 1.2);
        let legendY = d3.scalePoint().domain(legendNames).range([786.7, 865.7]);
        legendNames.forEach((n, i) => {
            lg.append("rect").attr("x", 690.3).attr("y", legendY(n) - 2.5).attr("width", 6.5).attr("height", 5)
                .attr("fill", legendColors[i]).attr("stroke", "#444").attr("stroke-width", 0.4);
            label(lg, 700.7, legendY(n) + 2.4, n, 6.5, { fill: "#444" });
        });
    </script>
</body>

</html>
